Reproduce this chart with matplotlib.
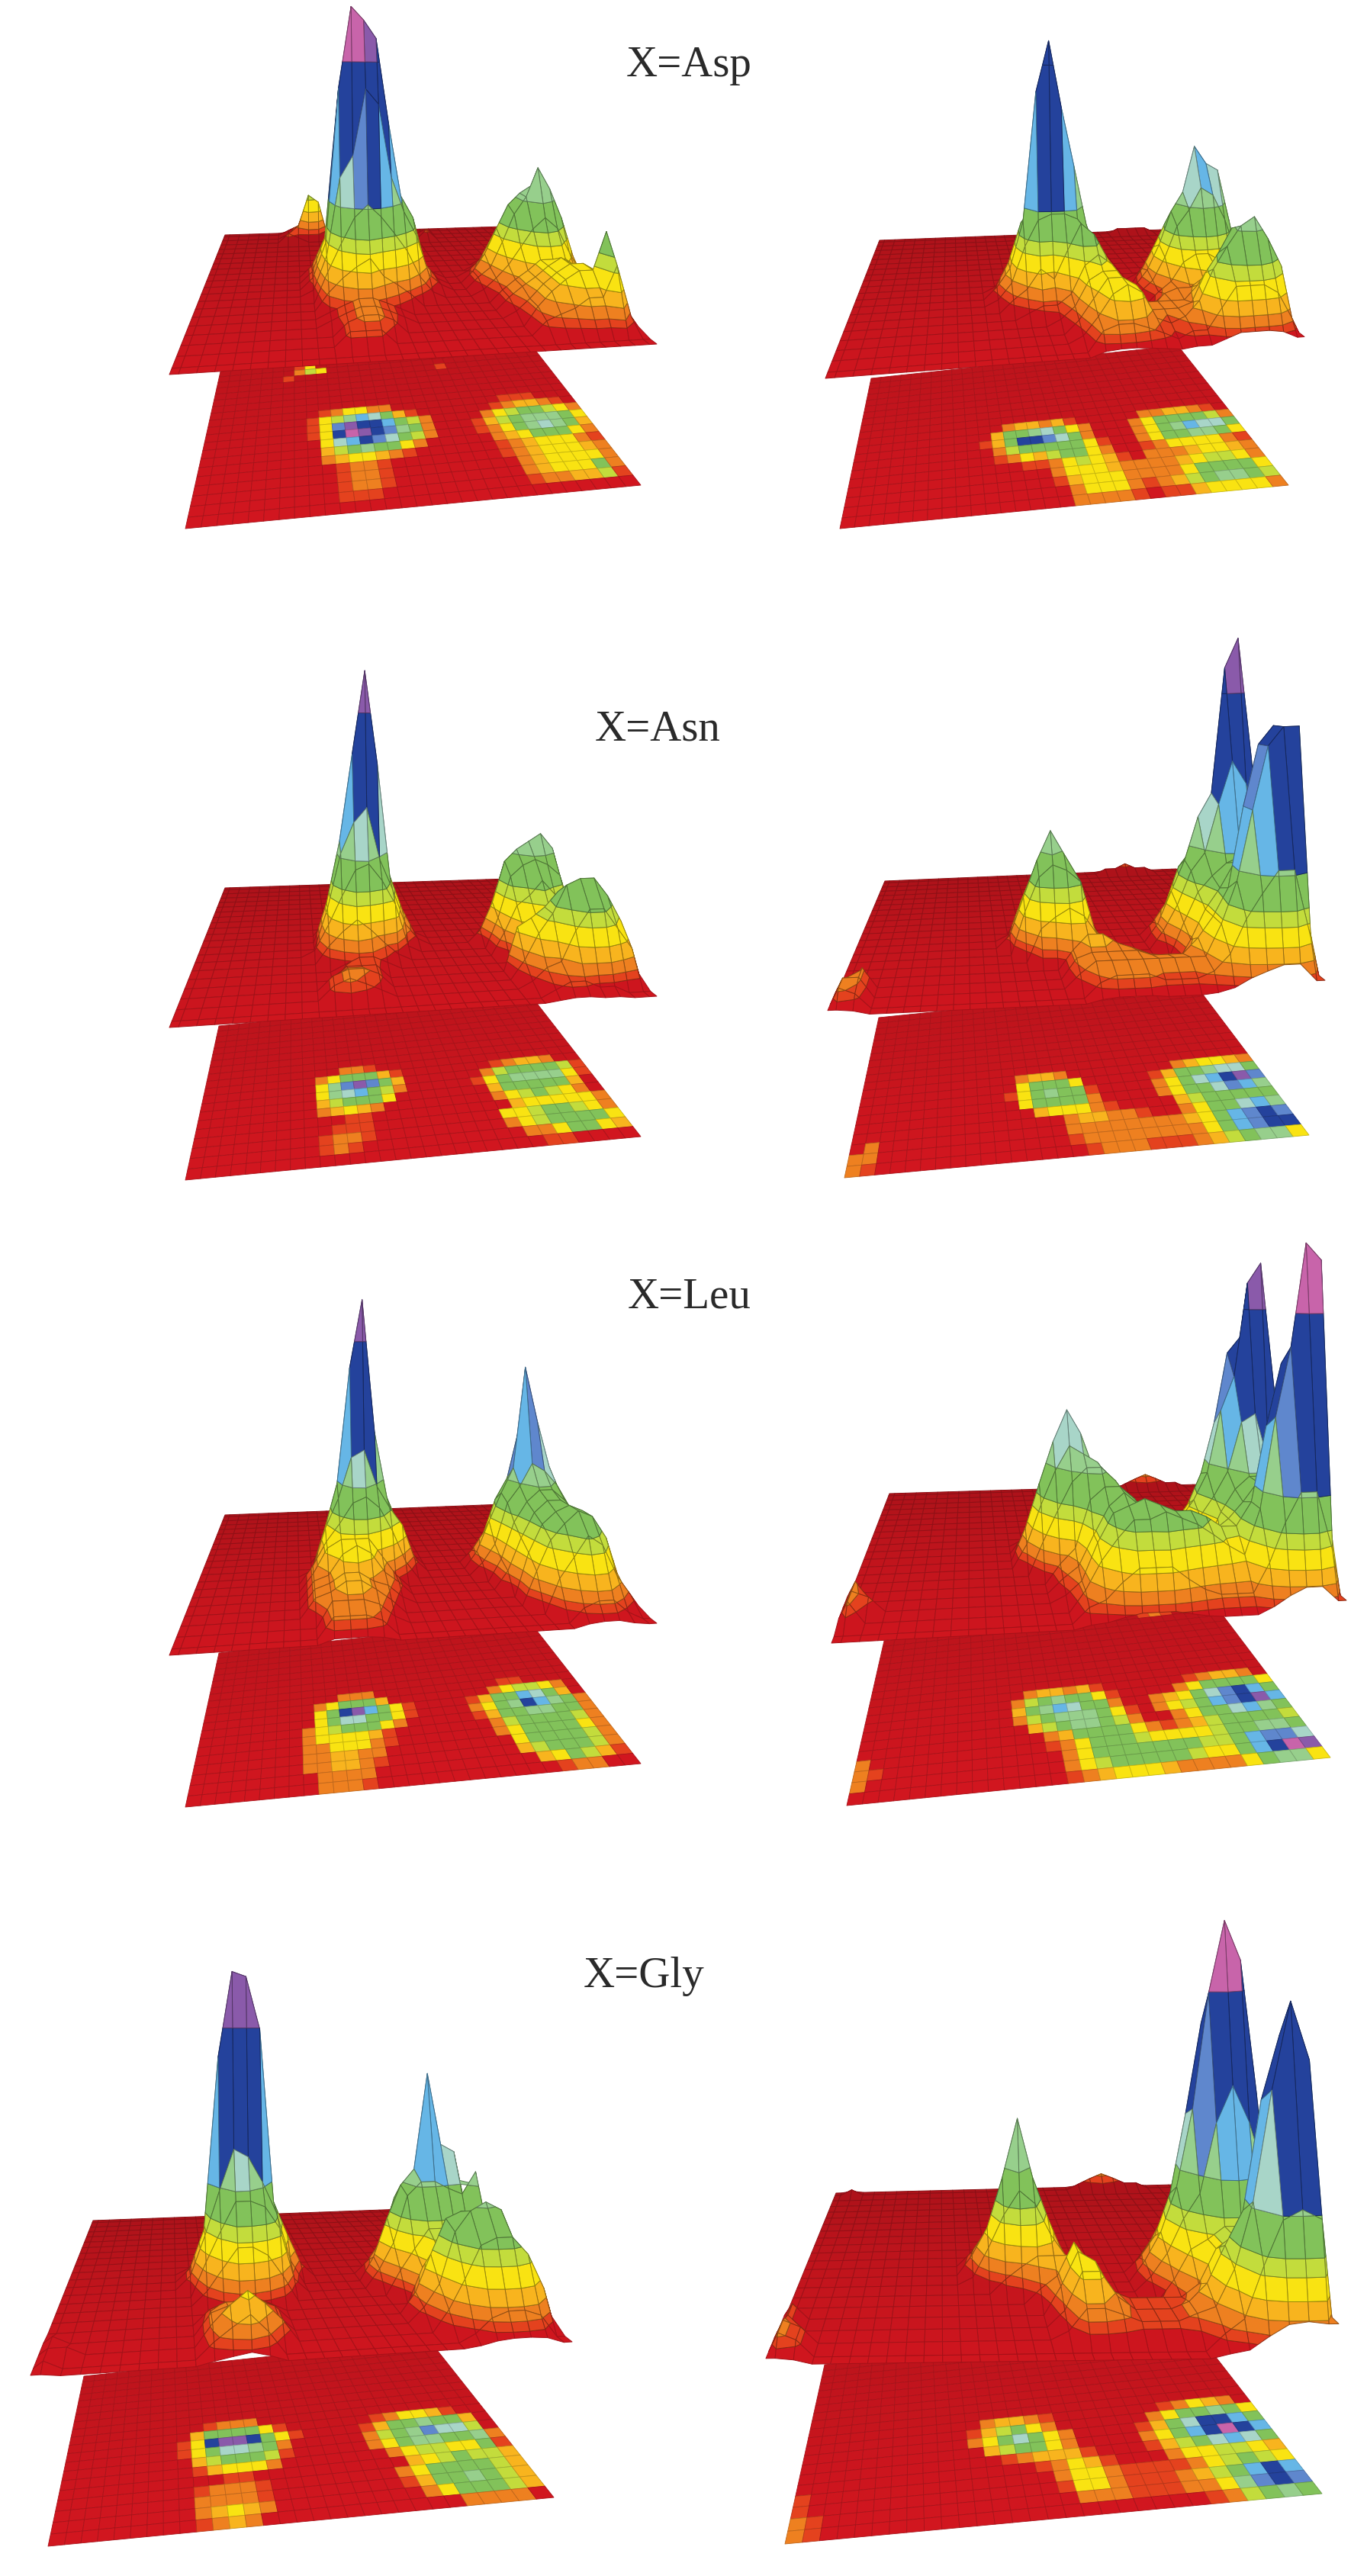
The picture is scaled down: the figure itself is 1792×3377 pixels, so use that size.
import numpy as np
import matplotlib
matplotlib.use("Agg")
import matplotlib.pyplot as plt
from matplotlib.collections import PolyCollection
from matplotlib.colors import to_rgb

N_ROWS = 20
N_COLS = 30
Z_UNIT = 15  # one base-36 digit in the height rows

# heights: row -> [(first column, base-36 digits)]
ASP_LEFT = {
    0: [(6, "1271")], 1: [(6, "1387"), (20, "1")], 2: [(6, "21"), (20, "2")],
    8: [(9, "2466431"), (23, "122211")], 9: [(8, "268gkhb521"), (22, "12355421")],
    10: [(8, "27ptrqkd831"), (21, "136899863")], 11: [(8, "27qwtsnea41"), (21, "258cefeb6")],
    12: [(8, "16hkqphc831"), (21, "247beifa5")], 13: [(9, "58cec9741"), (21, "13579b963")],
    14: [(9, "3567542"), (22, "24566642")], 15: [(9, "123321"), (22, "24567653")],
    16: [(9, "123321"), (22, "13567764")], 17: [(10, "2332"), (23, "35677c3")],
    18: [(10, "222"), (23, "2345582")],
}
ASP_RIGHT = {
    0: [(24, "1111")], 10: [(11, "1455452"), (22, "13455421")], 11: [(10, "15adgib63"), (22, "369bdc83")],
    12: [(10, "25bqspja41"), (21, "147cfljia")], 13: [(10, "148cddc962"), (21, "136adgfb6")],
    14: [(11, "24658ca731"), (22, "24677642")], 15: [(12, "1224787521"), (22, "34456753")],
    16: [(14, "1367753333578874")], 17: [(15, "25776333479ddb7")], 18: [(15, "1467632358befc8")],
    19: [(16, "34432122577763")],
}
ASN_LEFT = {
    9: [(10, "13321")], 10: [(9, "36aca52"), (23, "245531")], 11: [(9, "6fpto951"), (22, "38bddc82")],
    12: [(9, "6eikd841"), (21, "26cefge72")], 13: [(8, "158cda71"), (22, "5acdca51")],
    14: [(9, "356531"), (22, "478a8731")], 15: [(10, "1221"), (23, "5677663")],
    16: [(10, "222"), (22, "678aa864")], 17: [(9, "2332"), (22, "368cdda7")],
    18: [(9, "2321"), (22, "13479975")], 19: [(23, "12211")],
}
ASN_RIGHT = {
    0: [(22, "11211")], 11: [(12, "4553"), (23, "1356653")], 12: [(11, "16ac961"), (22, "259cfiha")],
    13: [(11, "27cgd92"), (22, "37bhksvn")], 14: [(12, "6acb941"), (22, "36adjnle")],
    15: [(13, "567642"), (23, "58acdc9")], 16: [(15, "3554321"), (23, "479dhlf")],
    17: [(1, "3"), (15, "3444433357akpqp")], 18: [(0, "33"), (15, "2444444447ckpqq")],
    19: [(0, "32"), (16, "2333222358bee6")],
}
LEU_LEFT = {
    9: [(10, "13431"), (23, "12211")], 10: [(9, "369c951"), (22, "1368863")],
    11: [(9, "6dqtka62"), (21, "259dkjc5")], 12: [(8, "17bhid972"), (21, "37bfqlfa3")],
    13: [(8, "368bca73"), (21, "25adgfd94")], 14: [(8, "3677752"), (22, "48bddb83")],
    15: [(8, "3467642"), (22, "37acca73")], 16: [(8, "3455431"), (23, "69bcb84")],
    17: [(8, "345542"), (23, "58acb83")], 18: [(9, "44431"), (24, "579852")], 19: [(9, "3332"), (25, "2331")],
}
LEU_RIGHT = {
    0: [(22, "123211")], 10: [(11, "1455452"), (24, "23553")], 11: [(11, "38cfc962"), (23, "369cdc7")],
    12: [(11, "5agkhc941"), (21, "357bipqka")], 13: [(11, "48dgfeb62"), (21, "468cknstm")],
    14: [(12, "58ceec83"), (21, "1479djkea")], 15: [(13, "35acca732358bddb8")],
    16: [(0, "3"), (13, "247aca866678adfea")], 17: [(0, "32"), (13, "137abcbaa988bkppj")],
    18: [(0, "3"), (14, "368aaba9876blqwt")], 19: [(14, "235666543336aee7")],
}
GLY_LEFT = {
    9: [(10, "24431")], 10: [(8, "159cca62"), (22, "246752")], 11: [(8, "27qvura62"), (21, "25adfda5")],
    12: [(8, "27dihe94"), (21, "48dfpih8")], 13: [(9, "58ccb82"), (21, "36ceedcf4")],
    14: [(9, "257764"), (22, "46887692")], 15: [(10, "1221"), (23, "5789885")],
    16: [(9, "23332"), (22, "37bcca85")], 17: [(0, "1"), (9, "34442"), (22, "25aded85")],
    18: [(0, "11"), (9, "35653"), (23, "369aa85")], 19: [(0, "1"), (9, "2453"), (24, "13443")],
}
GLY_RIGHT = {
    0: [(1, "1"), (21, "123211")], 10: [(12, "35542"), (24, "24653")], 11: [(11, "2589741"), (23, "369ced7")],
    12: [(11, "36cjc73"), (22, "259jqrkc")], 13: [(11, "158b9641"), (22, "36bkrwsl")],
    14: [(13, "245552"), (22, "258bjmjd")], 15: [(15, "24752"), (23, "3678875")],
    16: [(0, "2"), (16, "47632222478986")], 17: [(0, "2"), (16, "2664222358cmqm")],
    18: [(0, "32"), (16, "1443222347enrp")], 19: [(0, "32"), (24, "248ded")],
}

# colour bands: lower bound of each band in digit units, and the surface height it stands for
DIGIT_FLOORS = [0, 22, 38, 68, 82, 112, 128, 202, 248, 298, 340, 385, 430, 470, 525]
HEIGHT_FLOORS = [0, 15, 25, 40, 60, 85, 105, 150, 190, 230, 280, 330, 460, 480, 510]
BAND_COLORS = ["#d2161f", "#e4421e", "#ee8020", "#f8b41e", "#f9e312", "#c3dc3c", "#82c25a",
               "#97cf8c", "#a8d5c8", "#66b6e6", "#5f87cd", "#24429c", "#8a5aaa", "#c864aa"]
STRIP_FLOOR = 150  # above this a facet takes one colour from its two highest corners
TIP_FLOOR = 390    # only above this do the purple and pink bands show
LIGHT_GREEN, DARK_BLUE = 7, 11
REF_WIDTH = 640    # panel front width that the heights were read at

LABELS = ["X=Asp", "X=Asn", "X=Leu", "X=Gly"]
LABEL_XY = [(821, 86), (780, 956), (823, 1700), (765, 2591)]

# panel corners on the page: back-left, back-right, front-right, front-left
PANELS = [
    (ASP_LEFT, [(295, 308), (660, 297), (861, 451), (222, 491)], [(289, 487), (697, 453), (840, 636), (243, 693)]),
    (ASP_RIGHT, [(1153, 315), (1526, 301), (1710, 448), (1082, 496)], [(1142, 496), (1544, 453), (1689, 636), (1101, 693)]),
    (ASN_LEFT, [(295, 1164), (666, 1152), (861, 1306), (222, 1347)], [(287, 1345), (695, 1304), (840, 1490), (243, 1547)]),
    (ASN_RIGHT, [(1160, 1155), (1542, 1139), (1737, 1302), (1085, 1332)], [(1152, 1334), (1568, 1292), (1716, 1488), (1107, 1544)]),
    (LEU_LEFT, [(295, 1986), (660, 1972), (861, 2128), (222, 2170)], [(287, 2167), (693, 2124), (840, 2312), (243, 2369)]),
    (LEU_RIGHT, [(1166, 1958), (1570, 1946), (1765, 2118), (1090, 2154)], [(1159, 2151), (1592, 2103), (1744, 2304), (1110, 2367)]),
    (GLY_LEFT, [(122, 2911), (529, 2896), (750, 3070), (40, 3117)], [(110, 3115), (562, 3067), (726, 3274), (63, 3338)]),
    (GLY_RIGHT, [(1096, 2875), (1539, 2864), (1755, 3090), (1004, 3100)], [(1081, 3100), (1562, 3049), (1733, 3269), (1029, 3335)]),
]


def build_heights(rows):
    """Expand the sparse digit rows to a full grid of surface heights."""
    digits_grid = np.zeros((N_ROWS, N_COLS))
    for row, pieces in rows.items():
        for col, digits in pieces:
            for k, ch in enumerate(digits):
                digits_grid[row, col + k] = int(ch, 36) * Z_UNIT
    return np.interp(digits_grid, DIGIT_FLOORS, HEIGHT_FLOORS)


def make_projection(corners):
    """Homography from the unit square (u right, v towards the viewer) to the page."""
    src = [(0, 0), (1, 0), (1, 1), (0, 1)]
    a, b = [], []
    for (u, v), (x, y) in zip(src, corners):
        a.append([u, v, 1, 0, 0, 0, -u * x, -v * x])
        a.append([0, 0, 0, u, v, 1, -u * y, -v * y])
        b += [x, y]
    h = np.append(np.linalg.solve(np.array(a, float), np.array(b, float)), 1.0).reshape(3, 3)
    front_w = h[2, 0] * 0.5 + h[2, 1] + h[2, 2]
    panel_scale = (corners[2][0] - corners[3][0]) / REF_WIDTH

    def project(u, v, z=0.0):
        w = h[2, 0] * u + h[2, 1] * v + h[2, 2]
        x = (h[0, 0] * u + h[0, 1] * v + h[0, 2]) / w
        y = (h[1, 0] * u + h[1, 1] * v + h[1, 2]) / w
        return x, y - z * panel_scale * front_w / w
    return project


def clip_band(poly, lo, hi):
    """Cut a polygon of (u, v, z) vertices down to lo <= z <= hi."""
    for limit, sign in ((lo, 1), (hi, -1)):
        out = []
        for i, p in enumerate(poly):
            q = poly[(i + 1) % len(poly)]
            dp, dq = sign * (p[2] - limit), sign * (q[2] - limit)
            if dp >= 0:
                out.append(p)
            if dp * dq < 0:
                t = dp / (dp - dq)
                out.append(tuple(p[k] + t * (q[k] - p[k]) for k in range(3)))
        poly = out
        if len(poly) < 3:
            return []
    return poly


def shade(color, factor):
    return tuple(min(1, c * factor) for c in to_rgb(color))


def band_index(z):
    idx = np.searchsorted(HEIGHT_FLOORS, z, side="right") - 1
    return min(idx, len(BAND_COLORS) - 1)


def facet_slices(zs):
    """Height slices of one facet and the colour band of each."""
    low_floors = [f for f in HEIGHT_FLOORS if f < STRIP_FLOOR]
    slices = []
    for band, lo in enumerate(low_floors):
        hi = low_floors[band + 1] if band + 1 < len(low_floors) else STRIP_FLOOR
        slices.append((lo, hi, band))
    top_two = sum(sorted(zs)[-2:]) / 2
    strip = min(max(band_index(top_two), LIGHT_GREEN), DARK_BLUE)
    slices.append((STRIP_FLOOR, TIP_FLOOR, strip))
    slices.append((TIP_FLOOR, 1e6, max(band_index(max(zs)), strip)))
    return slices


def draw_map(ax, heights, corners):
    project = make_projection(corners)
    verts, faces, edges = [], [], []
    for r in range(N_ROWS):
        for c in range(N_COLS):
            cell = [((c + a) / N_COLS, (r + b) / N_ROWS) for a, b in ((0, 0), (1, 0), (1, 1), (0, 1))]
            verts.append([project(u, v) for u, v in cell])
            band = band_index(heights[r, c])
            factor = 0.9 + 0.1 * r / N_ROWS if band == 0 else 1.0
            faces.append(shade(BAND_COLORS[band], factor))
            edges.append(shade(BAND_COLORS[band], 0.8))
    ax.add_collection(PolyCollection(verts, facecolors=faces, edgecolors=edges, linewidths=0.6))


def draw_surface(ax, heights, corners):
    project = make_projection(corners)
    # grid vertices sit on cell centres, with a low rim round the plane
    rim = np.pad(heights, 1, mode="edge") * 0.25
    rim[1:-1, 1:-1] = heights
    us = np.concatenate(([0], (np.arange(N_COLS) + 0.5) / N_COLS, [1]))
    vs = np.concatenate(([0], (np.arange(N_ROWS) + 0.5) / N_ROWS, [1]))
    n_r, n_c = rim.shape
    verts, faces, edges = [], [], []
    eye_col = 9
    # back rows first, and in a row the columns furthest from the eye first
    col_order = sorted(range(n_c - 1), key=lambda c: -abs(c - eye_col))
    for r in range(n_r - 1):
        for c in col_order:
            quad = [(us[c], vs[r], rim[r, c]), (us[c + 1], vs[r], rim[r, c + 1]),
                    (us[c + 1], vs[r + 1], rim[r + 1, c + 1]), (us[c], vs[r + 1], rim[r + 1, c])]
            zs = [p[2] for p in quad]
            for lo, hi, band in facet_slices(zs):
                if max(zs) < lo or min(zs) > hi:
                    continue
                piece = clip_band(quad, lo, hi)
                if not piece:
                    continue
                verts.append([project(*p) for p in piece])
                if band == 0:
                    factor = 0.82 + 0.18 * r / n_r
                    faces.append(shade(BAND_COLORS[0], factor))
                    edges.append(shade(BAND_COLORS[0], factor * 0.8))
                else:
                    faces.append(to_rgb(BAND_COLORS[band]))
                    edges.append(shade(BAND_COLORS[band], 0.6))
    ax.add_collection(PolyCollection(verts, facecolors=faces, edgecolors=edges, linewidths=0.7))


def main():
    fig = plt.figure(figsize=(17.92, 33.77), dpi=100)
    ax = fig.add_axes([0, 0, 1, 1])
    ax.set_xlim(0, 1792)
    ax.set_ylim(3377, 0)
    ax.axis("off")

    for rows, upper, lower in PANELS:
        heights = build_heights(rows)
        draw_map(ax, heights, lower)
        draw_surface(ax, heights, upper)

    for label, (x, y) in zip(LABELS, LABEL_XY):
        ax.text(x, y, label, family="Liberation Serif", fontsize=41, color="#2a2a2a", ha="left", va="center")

    fig.savefig("out.png", dpi=100, facecolor="white")


if __name__ == "__main__":
    main()
